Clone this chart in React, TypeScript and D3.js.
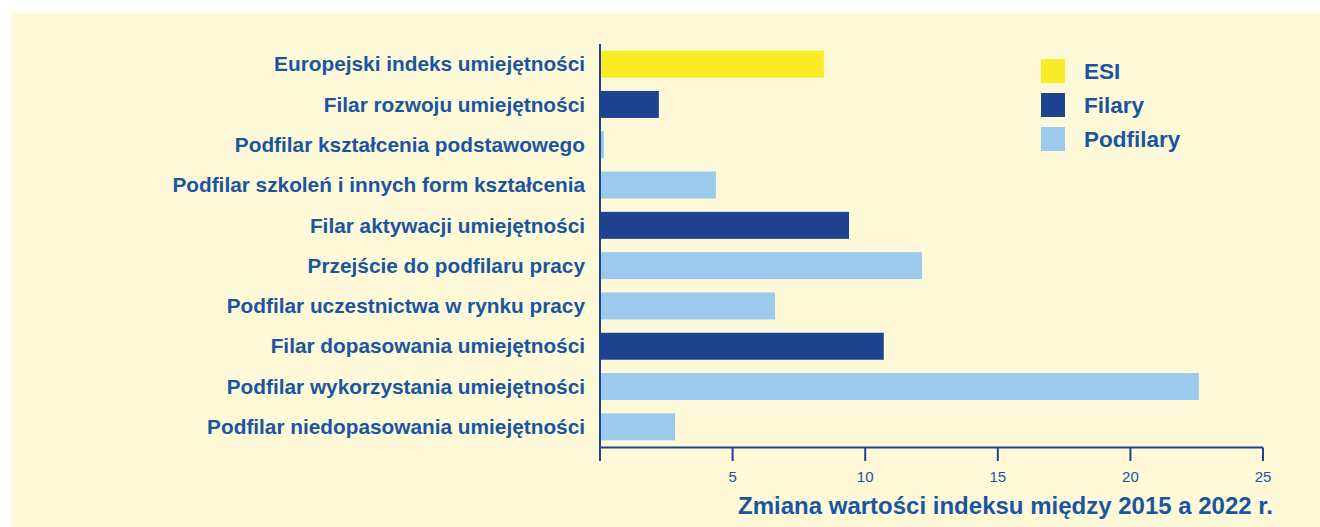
import React from "react";
import * as d3 from "d3";

const categories = [
  "Europejski indeks umiejętności",
  "Filar rozwoju umiejętności",
  "Podfilar kształcenia podstawowego",
  "Podfilar szkoleń i innych form kształcenia",
  "Filar aktywacji umiejętności",
  "Przejście do podfilaru pracy",
  "Podfilar uczestnictwa w rynku pracy",
  "Filar dopasowania umiejętności",
  "Podfilar wykorzystania umiejętności",
  "Podfilar niedopasowania umiejętności",
];
const values = [8.44, 2.22, 0.15, 4.37, 9.39, 12.14, 6.6, 10.7, 22.58, 2.83];
const groups = ["ESI", "Filary", "Podfilary", "Podfilary", "Filary", "Podfilary", "Podfilary", "Filary", "Podfilary", "Podfilary"];
const legendLabels = ["ESI", "Filary", "Podfilary"];
const tickValues = [5, 10, 15, 20, 25];
const axisTitle = "Zmiana wartości indeksu między 2015 a 2022 r.";

const W = 1320;
const H = 527;
const BG = "#fdf9d9";
const TEXT = "#1a55a0";
const AXIS = "#1f448f";
const colors: Record<string, string> = { ESI: "#fbeb24", Filary: "#1f448f", Podfilary: "#9ccaec" };
const FONT = "'Liberation Sans', Arial, Helvetica, sans-serif";

export default function App() {
  const x = d3.scaleLinear().domain([0, 25]).range([600, 1263]);
  const y = d3.scaleBand<string>().domain(categories).range([44, 447]).paddingInner(0.33).paddingOuter(0.165);
  const axisY = 447.5;
  return (
    <svg width={W} height={H} style={{ position: "absolute", left: 0, top: 0, display: "block" }}>
      <rect x={0} y={0} width={W} height={H} fill="#ffffff" />
      <rect x={10} y={13} width={W - 10} height={H - 13} fill={BG} />
      {categories.map((c, i) => (
        <rect key={c} x={x(0)} y={y(c)!} width={x(values[i]) - x(0)} height={y.bandwidth()} fill={colors[groups[i]]} />
      ))}
      {categories.map((c) => (
        <text key={c + "l"} x={585} y={y(c)! + y.bandwidth() / 2 + 7.2} textAnchor="end"
          fontFamily={FONT} fontWeight={700} fontSize={20.8} fill={TEXT}>{c}</text>
      ))}
      <line x1={x(0)} x2={x(0)} y1={44} y2={461} stroke={AXIS} strokeWidth={2} />
      <line x1={x(0)} x2={x(25)} y1={axisY} y2={axisY} stroke={AXIS} strokeWidth={2} />
      {tickValues.map((t) => (
        <g key={t}>
          <line x1={x(t)} x2={x(t)} y1={axisY} y2={461} stroke={AXIS} strokeWidth={2} />
          <text x={x(t)} y={482} textAnchor="middle" fontFamily={FONT}
            fontSize={15} fill={TEXT}>{t}</text>
        </g>
      ))}
      <text x={1273} y={514} textAnchor="end" fontFamily={FONT} fontWeight={700} fontSize={24} fill={TEXT}>{axisTitle}</text>
      {legendLabels.map((l, i) => (
        <g key={l}>
          <rect x={1041} y={59 + i * 34} width={24} height={24} fill={colors[l]} />
          <text x={1084} y={79 + i * 34} fontFamily={FONT} fontWeight={700} fontSize={22.5} fill={TEXT}>{l}</text>
        </g>
      ))}
    </svg>
  );
}
